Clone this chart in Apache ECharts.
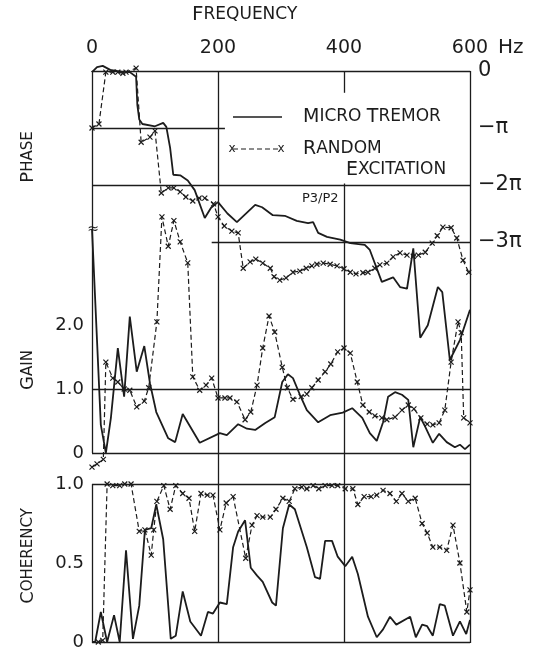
<!DOCTYPE html>
<html>
<head>
<meta charset="utf-8">
<script src="https://cdn.jsdelivr.net/npm/echarts@6/dist/echarts.min.js"></script>
<style>
html, body { margin: 0; background: #fff; }
#chart { width: 537px; height: 651px; }
</style>
</head>
<body>
<div id="chart"></div>
<script>
// axis ticks
var freqTicks = [0, 200, 400, 600];
var phaseLabels = { '0': '0', '-1': '−π', '-2': '−2π', '-3': '−3π' };

// phase, in units of pi  [Hz, phase/pi]
var microPhase = [[0,-0.02],[8,0.07],[17,0.09],[29,0.02],[45,-0.01],[60,-0.02],[70,-0.1],[72,-0.6],[75,-0.85],[80,-0.93],[100,-0.97],[113,-0.91],[118,-0.98],[124,-1.35],[129,-1.82],[140,-1.83],[152,-1.92],[163,-2.09],[179,-2.58],[189,-2.4],[200,-2.3],[215,-2.5],[230,-2.65],[259,-2.35],[270,-2.39],[287,-2.53],[306,-2.54],[325,-2.63],[343,-2.67],[351,-2.65],[359,-2.84],[373,-2.91],[394,-2.96],[410,-3.02],[433,-3.05],[441,-3.14],[460,-3.7],[478,-3.62],[489,-3.79],[500,-3.82],[510,-3.11],[521,-4.68],[533,-4.46],[549,-3.79],[556,-3.88],[568,-5.07],[584,-4.72],[600,-4.19]];
var randomPhase = [[0,-1.0],[11,-0.93],[22,-0.02],[33,-0.02],[41,-0.02],[49,-0.04],[54,-0.02],[70,0.05],[78,-1.25],[92,-1.16],[100,-1.05],[110,-2.14],[121,-2.05],[130,-2.05],[140,-2.12],[149,-2.21],[160,-2.28],[170,-2.23],[179,-2.23],[193,-2.33],[200,-2.56],[210,-2.72],[222,-2.81],[232,-2.84],[240,-3.46],[251,-3.35],[260,-3.3],[271,-3.37],[283,-3.46],[289,-3.61],[298,-3.67],[308,-3.63],[319,-3.53],[330,-3.51],[340,-3.46],[349,-3.42],[357,-3.39],[367,-3.37],[378,-3.39],[389,-3.42],[400,-3.47],[410,-3.53],[419,-3.56],[430,-3.54],[438,-3.53],[449,-3.46],[457,-3.4],[468,-3.37],[478,-3.26],[489,-3.19],[500,-3.23],[510,-3.25],[518,-3.23],[529,-3.18],[540,-3.02],[548,-2.89],[557,-2.74],[570,-2.75],[579,-2.93],[589,-3.32],[598,-3.53]];

// gain
var microGain = [[0,3.5],[14,0.44],[22,0.0],[30,0.55],[41,1.64],[51,0.88],[60,2.13],[71,1.27],[83,1.67],[92,1.09],[102,0.64],[121,0.23],[132,0.17],[144,0.61],[171,0.16],[203,0.31],[214,0.28],[232,0.45],[246,0.38],[259,0.36],[275,0.47],[290,0.56],[302,1.11],[311,1.23],[319,1.17],[330,0.91],[341,0.67],[359,0.48],[378,0.59],[398,0.63],[413,0.7],[429,0.55],[441,0.31],[452,0.19],[462,0.48],[470,0.88],[481,0.95],[492,0.91],[502,0.83],[510,0.09],[521,0.56],[529,0.41],[541,0.16],[551,0.3],[563,0.17],[576,0.09],[584,0.13],[592,0.06],[600,0.13]];
var randomGain = [[0,-0.22],[8,-0.17],[18,-0.1],[22,1.42],[33,1.17],[41,1.11],[51,1.0],[60,0.98],[71,0.72],[83,0.81],[90,1.02],[103,2.05],[111,3.69],[121,3.23],[130,3.63],[140,3.3],[152,2.97],[160,1.19],[171,0.98],[181,1.06],[190,1.17],[200,0.86],[211,0.86],[219,0.86],[230,0.8],[243,0.52],[252,0.64],[262,1.06],[271,1.64],[281,2.14],[290,1.89],[302,1.34],[310,1.02],[319,0.84],[332,0.88],[341,0.92],[349,1.02],[359,1.14],[370,1.27],[379,1.39],[390,1.58],[400,1.64],[410,1.56],[421,1.11],[430,0.75],[440,0.64],[449,0.58],[460,0.55],[468,0.52],[481,0.56],[492,0.67],[502,0.75],[511,0.69],[522,0.55],[532,0.45],[541,0.44],[551,0.47],[560,0.67],[570,1.42],[581,2.05],[586,1.88],[590,0.55],[600,0.47]];

// coherency
var microCoh = [[0,0],[5,0],[14,0.19],[24,0],[35,0.17],[44,0],[54,0.58],[65,0.02],[75,0.23],[84,0.71],[94,0.72],[102,0.87],[113,0.65],[125,0.02],[133,0.04],[144,0.32],[156,0.13],[173,0.04],[184,0.19],[192,0.18],[203,0.25],[214,0.24],[224,0.6],[232,0.7],[243,0.77],[252,0.47],[262,0.42],[271,0.38],[286,0.25],[292,0.23],[303,0.72],[313,0.87],[322,0.84],[341,0.6],[354,0.41],[362,0.4],[370,0.64],[381,0.64],[390,0.54],[402,0.48],[413,0.54],[422,0.43],[438,0.16],[452,0.03],[462,0.08],[473,0.16],[483,0.11],[505,0.16],[514,0.03],[524,0.11],[532,0.1],[541,0.04],[552,0.24],[560,0.23],[573,0.04],[584,0.13],[594,0.05],[600,0.14]];
var randomCoh = [[10,0],[17,0.01],[24,1.0],[33,0.99],[44,0.99],[52,1.0],[62,1.0],[75,0.7],[84,0.71],[94,0.55],[98,0.71],[103,0.89],[114,0.99],[124,0.84],[133,0.99],[144,0.94],[154,0.91],[163,0.7],[173,0.94],[183,0.93],[192,0.93],[203,0.71],[213,0.88],[224,0.92],[244,0.53],[254,0.74],[262,0.8],[271,0.79],[283,0.79],[292,0.84],[303,0.91],[313,0.89],[322,0.97],[333,0.98],[341,0.97],[351,0.99],[360,0.97],[370,0.99],[381,0.99],[390,0.99],[402,0.97],[414,0.97],[422,0.87],[432,0.92],[443,0.92],[452,0.93],[462,0.96],[473,0.94],[483,0.89],[492,0.94],[502,0.89],[513,0.91],[524,0.75],[532,0.69],[541,0.6],[552,0.6],[563,0.58],[573,0.74],[584,0.5],[595,0.19],[600,0.33]];

var ink = '#1c1c1c';
var font = 'DejaVu Sans';
var cross = 'path://M0,0L10,10M10,0L0,10';

// [[x1,y1],[x2,y2]] -> markLine data
function refLines(list) {
  return list.map(function (p) { return [{ coord: p[0] }, { coord: p[1] }]; });
}
function markLines(list) {
  return {
    silent: true,
    symbol: ['none', 'none'],
    label: { show: false },
    lineStyle: { type: 'solid', color: ink, width: 1.3 },
    data: refLines(list)
  };
}
function solid(name, data, idx, ml) {
  var s = {
    name: name, type: 'line', data: data, xAxisIndex: idx, yAxisIndex: idx,
    showSymbol: false, clip: false, silent: true,
    lineStyle: { color: ink, width: 1.8 }
  };
  if (ml) s.markLine = markLines(ml);
  return s;
}
function dashed(name, data, idx) {
  return {
    name: name, type: 'line', data: data, xAxisIndex: idx, yAxisIndex: idx,
    symbol: cross, symbolSize: 5, showSymbol: true, clip: false, silent: true,
    itemStyle: { color: ink, borderColor: ink, borderWidth: 1.2 },
    lineStyle: { color: ink, width: 1.2, type: [5, 3] }
  };
}

var chart = echarts.init(document.getElementById('chart'));

var hidden = { show: false };
var option = {
  backgroundColor: '#fff',
  animation: false,
  grid: [
    { left: 92, right: 67, top: 71, height: 171 },   // phase 0 .. -3pi
    { left: 92, right: 67, top: 325, height: 128 },  // gain 0 .. 2
    { left: 92, right: 67, top: 484, height: 159 },  // coherency 0 .. 1
    { left: 92, right: 67, top: 71, height: 572 }    // frame, coherency units
  ],
  xAxis: [
    {
      gridIndex: 0, type: 'value', min: 0, max: 600, interval: 200, position: 'top',
      axisLine: { show: true, lineStyle: { color: ink, width: 1.3 } },
      axisTick: hidden, splitLine: hidden,
      axisLabel: { color: ink, fontSize: 19, fontFamily: font, margin: 13,
        formatter: function (v) { return freqTicks.indexOf(v) >= 0 ? String(v) : ''; } }
    },
    { gridIndex: 1, type: 'value', min: 0, max: 600, show: false },
    { gridIndex: 2, type: 'value', min: 0, max: 600, show: false },
    { gridIndex: 3, type: 'value', min: 0, max: 600, show: false }
  ],
  yAxis: [
    {
      gridIndex: 0, type: 'value', min: -3, max: 0, interval: 1, position: 'right',
      axisLine: hidden, axisTick: hidden, splitLine: hidden,
      axisLabel: { color: ink, fontSize: 21, fontFamily: font, margin: 8,
        formatter: function (v) { return phaseLabels[String(v)] || ''; } }
    },
    {
      gridIndex: 1, type: 'value', min: 0, max: 2, interval: 1,
      axisLine: hidden, axisTick: hidden, splitLine: hidden,
      axisLabel: { color: ink, fontSize: 18, fontFamily: font, margin: 8,
        formatter: function (v) { return v === 0 ? '0' : v.toFixed(1); } }
    },
    {
      gridIndex: 2, type: 'value', min: 0, max: 1, interval: 0.5,
      axisLine: hidden, axisTick: hidden, splitLine: hidden,
      axisLabel: { color: ink, fontSize: 18, fontFamily: font, margin: 8,
        formatter: function (v) { return v === 0 ? '0' : v.toFixed(1); } }
    },
    { gridIndex: 3, type: 'value', min: 0, max: 3.597, show: false }
  ],
  series: [
    solid('MICRO TREMOR phase', microPhase, 0, [
      [[0, -1], [211, -1]], [[0, -2], [600, -2]], [[190, -3], [600, -3]]
    ]),
    dashed('RANDOM EXCITATION phase', randomPhase, 0),
    solid('MICRO TREMOR gain', microGain, 1, [
      [[0, 0], [600, 0]], [[0, 1], [600, 1]]
    ]),
    dashed('RANDOM EXCITATION gain', randomGain, 1),
    solid('MICRO TREMOR coherency', microCoh, 2, [
      [[0, 0], [600, 0]], [[0, 1], [600, 1]]
    ]),
    dashed('RANDOM EXCITATION coherency', randomCoh, 2),
    {
      name: 'frame', type: 'line', data: [], xAxisIndex: 3, yAxisIndex: 3, clip: false,
      markLine: markLines([
        [[0, 0], [0, 1]], [[0, 1.195], [0, 3.597]],
        [[600, 0], [600, 3.597]],
        [[200, 0], [200, 3.597]],
        [[400, 0], [400, 2.89]], [[400, 3.46], [400, 3.597]]
      ])
    }
  ],
  graphic: [
    { type: 'text', left: 192, top: 5, style: { text: '{b|F}{s|REQUENCY}', rich: {
      b: { fontSize: 20, fontFamily: font, fill: ink }, s: { fontSize: 17, fontFamily: font, fill: ink } } } },
    { type: 'text', x: 498, y: 48, style: { text: 'Hz', fontSize: 20, fontFamily: font, fill: ink, verticalAlign: 'middle' } },
    { type: 'text', x: 28, y: 157, rotation: Math.PI / 2, style: { text: '{b|P}{s|HASE}', align: 'center', verticalAlign: 'middle', rich: {
      b: { fontSize: 18, fontFamily: font, fill: ink }, s: { fontSize: 15, fontFamily: font, fill: ink } } } },
    { type: 'text', x: 28, y: 370, rotation: Math.PI / 2, style: { text: '{b|G}{s|AIN}', align: 'center', verticalAlign: 'middle', rich: {
      b: { fontSize: 18, fontFamily: font, fill: ink }, s: { fontSize: 15, fontFamily: font, fill: ink } } } },
    { type: 'text', x: 28, y: 556, rotation: Math.PI / 2, style: { text: '{b|C}{s|OHERENCY}', align: 'center', verticalAlign: 'middle', rich: {
      b: { fontSize: 18, fontFamily: font, fill: ink }, s: { fontSize: 15, fontFamily: font, fill: ink } } } },
    { type: 'text', x: 93, y: 229, style: { text: '≈', fontSize: 14, fontFamily: font, fill: ink, align: 'center', verticalAlign: 'middle' } },
    // legend
    { type: 'line', shape: { x1: 233, y1: 117, x2: 282, y2: 117 }, style: { stroke: ink, lineWidth: 1.5 } },
    { type: 'text', x: 303, y: 117, style: { text: '{b|M}{s|ICRO }{b|T}{s|REMOR}', verticalAlign: 'middle', rich: {
      b: { fontSize: 19, fontFamily: font, fill: ink }, s: { fontSize: 17, fontFamily: font, fill: ink } } } },
    { type: 'line', shape: { x1: 233, y1: 149, x2: 281, y2: 149 }, style: { stroke: ink, lineWidth: 1.2, lineDash: [5, 3] } },
    { type: 'text', x: 232, y: 149, style: { text: 'x', fontSize: 12, fontFamily: font, fill: ink, align: 'center', verticalAlign: 'middle' } },
    { type: 'text', x: 281, y: 149, style: { text: 'x', fontSize: 12, fontFamily: font, fill: ink, align: 'center', verticalAlign: 'middle' } },
    { type: 'text', x: 303, y: 149, style: { text: '{b|R}{s|ANDOM}', verticalAlign: 'middle', rich: {
      b: { fontSize: 19, fontFamily: font, fill: ink }, s: { fontSize: 17, fontFamily: font, fill: ink } } } },
    { type: 'text', x: 346, y: 170, style: { text: '{b|E}{s|XCITATION}', verticalAlign: 'middle', rich: {
      b: { fontSize: 19, fontFamily: font, fill: ink }, s: { fontSize: 17, fontFamily: font, fill: ink } } } },
    { type: 'text', x: 302, y: 199, style: { text: 'P3/P2', fontSize: 13, fontFamily: font, fill: ink, verticalAlign: 'middle' } }
  ]
};
chart.setOption(option);
</script>
</body>
</html>
